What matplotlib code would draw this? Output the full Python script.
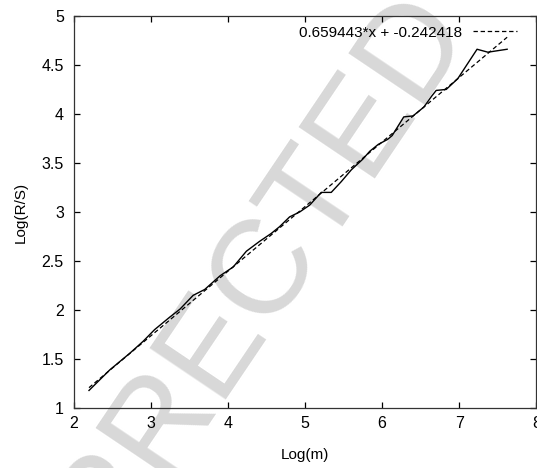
import numpy as np
import matplotlib
matplotlib.use('Agg')
import matplotlib.pyplot as plt

# R/S analysis: log(m) against log(R/S), with the least squares line
log_m = [2.20, 2.47, 2.73, 2.90, 3.05, 3.25, 3.38, 3.55, 3.70, 3.90,
         4.07, 4.24, 4.41, 4.56, 4.67, 4.80, 4.93, 5.06, 5.21, 5.34,
         5.47, 5.60, 5.75, 5.84, 5.95, 6.07, 6.13, 6.28, 6.40, 6.54,
         6.64, 6.70, 6.83, 6.98, 7.23, 7.37, 7.62]
log_rs = [1.18, 1.39, 1.56, 1.68, 1.80, 1.93, 2.01, 2.15, 2.21, 2.35,
          2.44, 2.60, 2.70, 2.78, 2.85, 2.95, 3.00, 3.07, 3.20, 3.20,
          3.31, 3.43, 3.54, 3.62, 3.69, 3.74, 3.78, 3.97, 3.98, 4.07,
          4.18, 4.24, 4.25, 4.36, 4.66, 4.63, 4.66]
slope = 0.659443
intercept = -0.242418
fit_label = '0.659443*x + -0.242418'

plt.rcParams['font.family'] = ['Liberation Sans', 'DejaVu Sans']
plt.rcParams['font.size'] = 11

fig = plt.figure(figsize=(5.37, 4.68), dpi=100)
ax = fig.add_axes([0.137, 0.128, 0.862, 0.838])
ax.set_facecolor('none')

# faint proof watermark behind the curves
fig.text(0.28, 0.07, 'UNCORRECTED', rotation=56, rotation_mode='anchor',
         ha='center', va='center', fontsize=96, color='#d8d8d8', zorder=-5)

x_fit = np.array([log_m[0], log_m[-1]])
ax.plot(log_m, log_rs, color='black', lw=1.0, zorder=3)
ax.plot(x_fit, slope * x_fit + intercept, color='black', lw=0.9,
        ls=(0, (3.5, 2.2)), label=fit_label, zorder=2)

ax.set_xlim(2, 8)
ax.set_ylim(1, 5)
ax.set_xticks(np.arange(2, 9, 1))
ax.set_yticks(np.arange(1, 5.01, 0.5))
ax.set_yticklabels(['1', '1.5', '2', '2.5', '3', '3.5', '4', '4.5', '5'])
ax.tick_params(direction='in', length=4.5, width=0.9, top=True, right=True,
               labelsize=11.5)
ax.tick_params(axis='x', pad=6)
ax.tick_params(axis='y', pad=7)
for s in ax.spines.values():
    s.set_linewidth(0.9)
    s.set_color('#333333')

ax.set_xlabel('Log(m)', labelpad=12)
ax.set_ylabel('Log(R/S)', labelpad=10)

ax.legend(loc='upper right', frameon=False, markerfirst=False,
          handlelength=2.9, handletextpad=0.7, borderpad=0, borderaxespad=0,
          bbox_to_anchor=(0.959, 0.975))

fig.savefig('out.png', dpi=100)
